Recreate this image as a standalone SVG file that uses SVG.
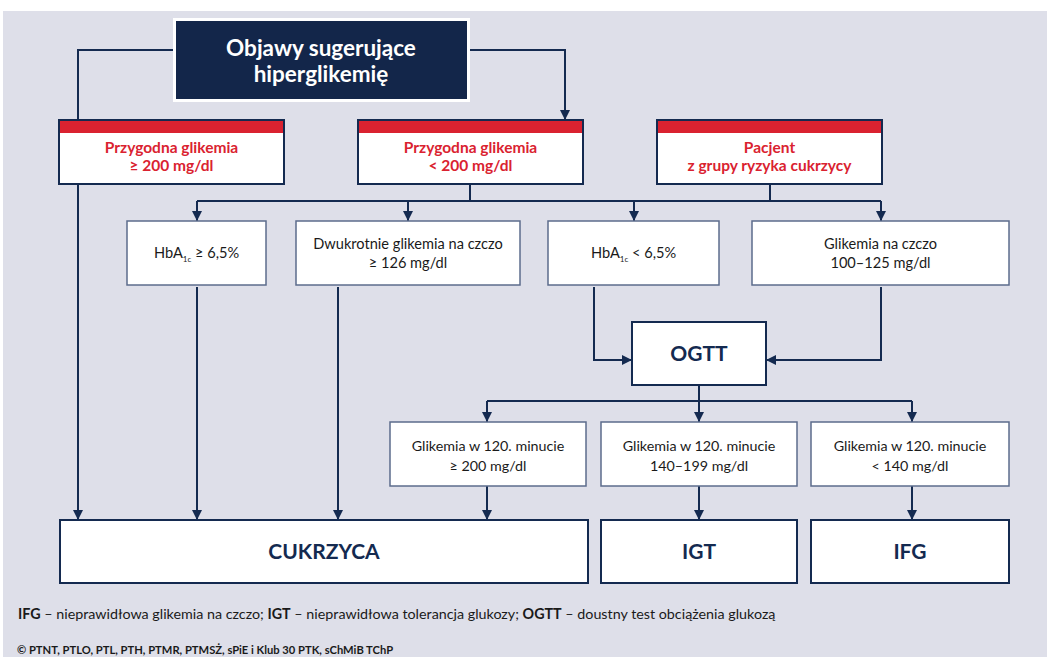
<svg xmlns="http://www.w3.org/2000/svg" width="1047" height="657" viewBox="0 0 1047 657">
<defs>
<style>
.bg{fill:#dedfe9}
.ln{fill:none;stroke:#142a50;stroke-width:2}
.hdr{fill:#fff;stroke:#142a50;stroke-width:2}
.band{fill:#da2230}
.box{fill:#fff;stroke:#5c6c8c;stroke-width:1.5}
.dbox{fill:#fff;stroke:#142a50;stroke-width:2}
.red{font-family:Lato,"Liberation Sans",sans-serif;font-weight:bold;font-size:15.5px;fill:#da2230;text-anchor:middle}
.t{font-family:Lato,"Liberation Sans",sans-serif;font-size:14.6px;fill:#1a1a1a;text-anchor:middle}
.t3{font-family:Lato,"Liberation Sans",sans-serif;font-size:14.3px;fill:#1a1a1a;text-anchor:middle}
.big{font-family:Lato,"Liberation Sans",sans-serif;font-weight:bold;font-size:21px;fill:#142a50;text-anchor:middle}
.top{font-family:Lato,"Liberation Sans",sans-serif;font-weight:bold;font-size:22.5px;fill:#fff;text-anchor:middle}
.leg{font-family:Lato,"Liberation Sans",sans-serif;font-size:14.3px;fill:#1a1a1a}
.cp{font-family:Lato,"Liberation Sans",sans-serif;font-weight:bold;font-size:11.2px;fill:#1a1a1a}
</style>
<marker id="ar" viewBox="0 0 10 10" refX="10" refY="5" markerWidth="10" markerHeight="10" markerUnits="userSpaceOnUse" orient="auto">
<path d="M0,0 L10,5 L0,10 z" fill="#142a50"/>
</marker>
</defs>
<rect x="0" y="0" width="1047" height="657" fill="#fff"/>
<rect class="bg" x="3" y="11" width="1044" height="646"/>

<g id="connectors">
<path class="ln" d="M173,50 H78 V520" marker-end="url(#ar)"/>
<path class="ln" d="M470,50 H565 V120" marker-end="url(#ar)"/>
<path class="ln" d="M470,184 V201 M770,184 V201 M197,201 H881"/>
<path class="ln" d="M197,201 V221" marker-end="url(#ar)"/>
<path class="ln" d="M408,201 V221" marker-end="url(#ar)"/>
<path class="ln" d="M634,201 V221" marker-end="url(#ar)"/>
<path class="ln" d="M881,201 V221" marker-end="url(#ar)"/>
<path class="ln" d="M197,287 V520" marker-end="url(#ar)"/>
<path class="ln" d="M338,287 V520" marker-end="url(#ar)"/>
<path class="ln" d="M594,287 V360 H632" marker-end="url(#ar)"/>
<path class="ln" d="M881,287 V360 H766" marker-end="url(#ar)"/>
<path class="ln" d="M699,386 V401 M487,401 H912"/>
<path class="ln" d="M487,401 V422" marker-end="url(#ar)"/>
<path class="ln" d="M699,401 V422" marker-end="url(#ar)"/>
<path class="ln" d="M912,401 V422" marker-end="url(#ar)"/>
<path class="ln" d="M487,486 V520" marker-end="url(#ar)"/>
<path class="ln" d="M699,486 V520" marker-end="url(#ar)"/>
<path class="ln" d="M912,486 V520" marker-end="url(#ar)"/>
</g>

<g id="n-top">
<rect x="173" y="18" width="297" height="84" fill="#fff"/>
<rect x="176" y="21" width="291" height="78" fill="#13264a"/>
<text class="top" x="321" y="56">Objawy sugerujące</text>
<text class="top" x="321" y="82">hiperglikemię</text>
</g>

<g id="n-pg200">
<rect class="hdr" x="59" y="120" width="225" height="64"/>
<rect class="band" x="60" y="121" width="223" height="12"/>
<text class="red" x="171.5" y="153">Przygodna glikemia</text>
<text class="red" x="171.5" y="171">≥ 200 mg/dl</text>
</g>

<g id="n-pglt200">
<rect class="hdr" x="358" y="120" width="225" height="64"/>
<rect class="band" x="359" y="121" width="223" height="12"/>
<text class="red" x="470.5" y="153">Przygodna glikemia</text>
<text class="red" x="470.5" y="171">&lt; 200 mg/dl</text>
</g>

<g id="n-pacjent">
<rect class="hdr" x="657" y="120" width="225" height="64"/>
<rect class="band" x="658" y="121" width="223" height="12"/>
<text class="red" x="769.5" y="153">Pacjent</text>
<text class="red" x="769.5" y="171">z grupy ryzyka cukrzycy</text>
</g>

<g id="n-hba-ge">
<rect class="box" x="127" y="221" width="139" height="64"/>
<text class="t" x="196.5" y="258">HbA<tspan font-size="8" dy="4">1c</tspan><tspan dy="-4"> ≥ 6,5%</tspan></text>
</g>

<g id="n-dwukrotnie">
<rect class="box" x="296" y="221" width="224" height="64"/>
<text class="t" x="408" y="249">Dwukrotnie glikemia na czczo</text>
<text class="t" x="408" y="268">≥ 126 mg/dl</text>
</g>

<g id="n-hba-lt">
<rect class="box" x="548" y="221" width="171" height="64"/>
<text class="t" x="633.5" y="258">HbA<tspan font-size="8" dy="4">1c</tspan><tspan dy="-4"> &lt; 6,5%</tspan></text>
</g>

<g id="n-czczo">
<rect class="box" x="752" y="221" width="257" height="64"/>
<text class="t" x="880.5" y="249">Glikemia na czczo</text>
<text class="t" x="880.5" y="268">100–125 mg/dl</text>
</g>

<g id="n-ogtt">
<rect class="dbox" x="632" y="322" width="134" height="63"/>
<text class="big" x="699" y="361">OGTT</text>
</g>

<g id="n-g200">
<rect class="box" x="390" y="422" width="196" height="64"/>
<text class="t3" x="488" y="451">Glikemia w 120. minucie</text>
<text class="t3" x="488" y="471">≥ 200 mg/dl</text>
</g>

<g id="n-g140">
<rect class="box" x="601" y="422" width="196" height="64"/>
<text class="t3" x="699" y="451">Glikemia w 120. minucie</text>
<text class="t3" x="699" y="471">140–199 mg/dl</text>
</g>

<g id="n-glt140">
<rect class="box" x="811" y="422" width="198" height="64"/>
<text class="t3" x="910" y="451">Glikemia w 120. minucie</text>
<text class="t3" x="910" y="471">&lt; 140 mg/dl</text>
</g>

<g id="n-cukrzyca">
<rect class="dbox" x="60" y="520" width="528" height="63"/>
<text class="big" x="324" y="559">CUKRZYCA</text>
</g>

<g id="n-igt">
<rect class="dbox" x="601" y="520" width="196" height="63"/>
<text class="big" x="699" y="559">IGT</text>
</g>

<g id="n-ifg">
<rect class="dbox" x="811" y="520" width="198" height="63"/>
<text class="big" x="910" y="559">IFG</text>
</g>

<g id="legend">
<text class="leg" x="18" y="619"><tspan font-weight="bold">IFG</tspan> – nieprawidłowa glikemia na czczo; <tspan font-weight="bold">IGT</tspan> – nieprawidłowa tolerancja glukozy; <tspan font-weight="bold">OGTT</tspan> – doustny test obciążenia glukozą</text>
<text class="cp" x="17" y="654">© PTNT, PTLO, PTL, PTH, PTMR, PTMSŻ, sPiE i Klub 30 PTK, sChMiB TChP</text>
</g>
</svg>
